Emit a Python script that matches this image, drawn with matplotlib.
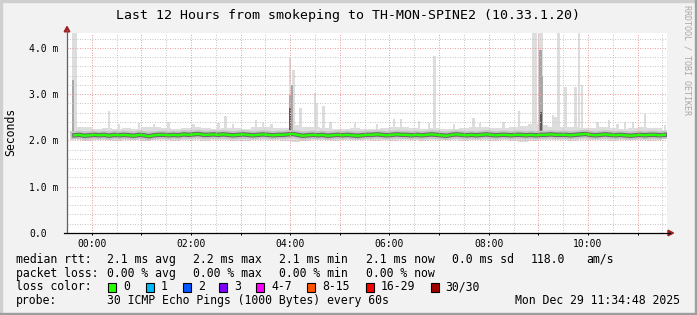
import numpy as np
import matplotlib.pyplot as plt
from matplotlib.patches import Rectangle, Polygon

plt.rcParams['font.family'] = ['DejaVu Sans Mono']

# ---- data (hours relative to 00:00, values in ms) ----
median_start = -0.35
median_step = 0.1
median_ms = [
    2.11, 2.12, 2.10, 2.11, 2.12, 2.11, 2.12, 2.10, 2.12, 2.11,
    2.12, 2.11, 2.10, 2.12, 2.11, 2.09, 2.11, 2.12, 2.12, 2.11,
    2.12, 2.11, 2.13, 2.12, 2.13, 2.14, 2.12, 2.12, 2.13, 2.12,
    2.13, 2.12, 2.11, 2.12, 2.13, 2.12, 2.11, 2.12, 2.13, 2.12,
    2.11, 2.12, 2.12, 2.13, 2.14, 2.12, 2.10, 2.11, 2.12, 2.11,
    2.12, 2.10, 2.11, 2.12, 2.11, 2.12, 2.11, 2.10, 2.11, 2.12,
    2.12, 2.13, 2.12, 2.11, 2.12, 2.13, 2.12, 2.12, 2.11, 2.12,
    2.11, 2.12, 2.13, 2.12, 2.11, 2.10, 2.12, 2.13, 2.12, 2.11,
    2.12, 2.11, 2.12, 2.13, 2.12, 2.11, 2.12, 2.12, 2.11, 2.12,
    2.12, 2.11, 2.12, 2.11, 2.12, 2.12, 2.13, 2.12, 2.12, 2.12,
    2.11, 2.12, 2.13, 2.14, 2.12, 2.11, 2.12, 2.13, 2.12, 2.11,
    2.12, 2.11, 2.10, 2.11, 2.12, 2.11, 2.12, 2.12, 2.11, 2.12,
]

smoke_start = -0.3
smoke_step = 0.2
smoke_hi = [
    2.30, 2.28, 2.25, 2.27, 2.24, 2.26, 2.25, 2.28, 2.30, 2.26,
    2.25, 2.27, 2.29, 2.26, 2.24, 2.27, 2.26, 2.25, 2.28, 2.30,
    2.27, 2.26, 2.33, 2.30, 2.28, 2.27, 2.25, 2.24, 2.26, 2.25,
    2.24, 2.27, 2.30, 2.28, 2.26, 2.25, 2.27, 2.25, 2.24, 2.26,
    2.28, 2.30, 2.27, 2.26, 2.29, 2.31, 2.35, 2.33, 2.30, 2.28,
    2.30, 2.27, 2.26, 2.28, 2.27, 2.25, 2.26, 2.28, 2.27, 2.26,
]
smoke_lo = [
    2.00, 1.99, 2.01, 2.00, 1.98, 2.01, 2.00, 1.99, 2.01, 2.00,
    1.98, 2.00, 2.01, 1.99, 2.00, 2.01, 1.99, 1.98, 2.00, 2.01,
    2.00, 1.99, 1.97, 1.98, 2.00, 2.01, 1.99, 2.00, 2.01, 2.00,
    1.99, 2.00, 1.98, 2.00, 2.01, 1.99, 2.00, 2.01, 2.00, 1.99,
    2.00, 2.01, 1.99, 2.00, 1.98, 1.96, 1.99, 2.00, 2.01, 2.00,
    1.99, 2.00, 2.01, 2.00, 1.99, 2.00, 2.01, 2.00, 1.99, 2.00,
]

# single pings far above the bulk (max of the smoke)
spike_t = [-0.38, -0.33, 0.35, 0.55, 0.95, 1.25, 1.55, 2.05, 2.55, 2.69,
           2.85, 3.31, 3.45, 3.62, 4.00, 4.07, 4.21, 4.50, 4.54, 4.67,
           4.81, 5.30, 5.75, 6.09, 6.23, 6.59, 6.80, 6.91, 7.30, 7.69,
           7.82, 8.30, 8.61, 8.90, 8.95, 9.02, 9.07, 9.30, 9.35, 9.41,
           9.55, 9.75, 9.82, 9.88, 10.19, 10.43, 10.60, 10.75, 10.91, 11.15,
           11.55]
spike_max = [4.40, 4.40, 2.63, 2.35, 2.38, 2.36, 2.40, 2.36, 2.38, 2.53,
             2.36, 2.44, 2.40, 2.36, 3.81, 3.52, 2.70, 3.02, 2.80, 2.74,
             2.40, 2.38, 2.36, 2.46, 2.46, 2.42, 2.38, 3.82, 2.36, 2.49,
             2.38, 2.40, 2.63, 4.40, 4.40, 4.40, 4.40, 2.55, 2.50, 4.40,
             3.16, 3.16, 4.40, 3.20, 2.40, 2.44, 2.36, 2.40, 2.40, 2.57,
             2.33]

# denser parts of the smoke
core_t = [-0.38, 4.00, 4.04, 9.04, 9.07]
core_top = [3.30, 2.98, 3.20, 3.95, 3.40]
dark_t = [4.00, 9.05]
dark_top = [2.70, 2.62]

hour_ticks = [0, 1, 2, 3, 4, 5, 6, 7, 8, 9, 10, 11]
hour_labels = ['00:00', '', '02:00', '', '04:00', '', '06:00', '', '08:00', '', '10:00', '']
ms_ticks = [0, 1, 2, 3, 4]
ms_labels = ['0.0', '1.0 m', '2.0 m', '3.0 m', '4.0 m']

rtt_items = ['median rtt:', '2.1 ms avg', '2.2 ms max', '2.1 ms min',
             '2.1 ms now', '0.0 ms sd', '118.0', 'am/s']
loss_items = ['packet loss:', '0.00 % avg', '0.00 % max', '0.00 % min', '0.00 % now']
loss_labels = ['0', '1', '2', '3', '4-7', '8-15', '16-29', '30/30']
loss_colors = ['#26ff00', '#00b8ff', '#0059ff', '#7e00ff', '#ff00ff',
               '#ff5500', '#ff0000', '#a10000']
probe_text = '30 ICMP Echo Pings (1000 Bytes) every 60s'
stamp = 'Mon Dec 29 11:34:48 2025'
title = 'Last 12 Hours from smokeping to TH-MON-SPINE2 (10.33.1.20)'

# ---- figure ----
W, H = 697, 315
fig = plt.figure(figsize=(W / 100, H / 100), dpi=100, facecolor='#f2f2f2')
ax = fig.add_axes([67 / W, (H - 233) / H, 600 / W, 200.3 / H])
ax.set_facecolor('white')

med_t = median_start + median_step * np.arange(len(median_ms))
smk_t = smoke_start + smoke_step * np.arange(len(smoke_hi))

ax.fill_between(smk_t, smoke_lo, smoke_hi, step='mid', color='#dddddd', lw=0, zorder=1)
ax.bar(spike_t, np.array(spike_max) - 2.05, bottom=2.05, width=0.05,
       color='#dddddd', lw=0, zorder=1)
ax.bar(core_t, np.array(core_top) - 2.05, bottom=2.05, width=0.05,
       color='#a8a8a8', lw=0, zorder=1.1)
ax.bar(dark_t, np.array(dark_top) - 2.05, bottom=2.05, width=0.05,
       color='#5a5a5a', lw=0, zorder=1.2)
ax.plot(med_t, median_ms, color='#c4c4c4', lw=6.0, zorder=1.3)
ax.plot(med_t, median_ms, color='#6a6a6a', lw=3.2, zorder=1.4)
ax.plot(med_t, median_ms, color='#26ff00', lw=1.7, zorder=3)

ax.set_xlim(-0.406, 11.594)
ax.set_ylim(0, 200.3 / 46.3)

ax.set_xticks(hour_ticks)
ax.set_xticklabels(hour_labels)
ax.set_xticks(np.arange(-0.5, 11.6, 0.5), minor=True)
ax.set_yticks(ms_ticks)
ax.set_yticklabels(ms_labels)
ax.set_yticks(np.arange(0.2, 4.4, 0.2), minor=True)

ax.set_axisbelow(False)
ax.grid(which='major', color='#e8a0a0', ls=(0, (1, 1.5)), lw=0.72)
ax.grid(which='minor', color='#c8c8c8', ls=(0, (1, 1.5)), lw=0.72)

ax.tick_params(axis='x', which='major', length=1.5, width=0.72, pad=2.6,
               labelsize=7, color='black')
ax.tick_params(axis='both', which='minor', length=0)
ax.tick_params(axis='y', which='major', length=0, pad=27.1, labelsize=7)
for lbl in ax.get_yticklabels():
    lbl.set_ha('left')
for s in ax.spines.values():
    s.set_visible(False)

# ---- overlay in pixel coordinates ----
ov = fig.add_axes([0, 0, 1, 1])
ov.set_xlim(0, W)
ov.set_ylim(H, 0)
ov.axis('off')

ov.add_patch(Rectangle((0, 0), W, 2, color='#cfcfcf'))
ov.add_patch(Rectangle((0, 0), 2, H, color='#cfcfcf'))
ov.add_patch(Rectangle((W - 2, 0), 2, H, color='#9e9e9e'))
ov.add_patch(Rectangle((0, H - 2), W, 2, color='#9e9e9e'))

ov.plot([67, 67], [233, 30], color='#606060', lw=0.9)
ov.plot([64, 670], [233, 233], color='black', lw=0.9)
ov.add_patch(Polygon([(64.2, 31.8), (69.8, 31.8), (67, 26.5)], color='#a02020'))
ov.add_patch(Polygon([(668, 230.2), (668, 235.8), (673.5, 233)], color='#a02020'))

ov.text(W / 2, 18.5, title, ha='center', va='baseline', fontsize=9.5)
ov.text(11, 132.3, 'Seconds', rotation=90, ha='center', va='center', fontsize=8.3)
ov.text(687.5, 60, 'RRDTOOL / TOBI OETIKER', rotation=270, ha='center', va='center',
        fontsize=6, color='#a8a8a8')

rtt_x = [16, 107.3, 193.3, 279.3, 365.7, 451.7, 531, 586.7]
for s, x in zip(rtt_items, rtt_x):
    ov.text(x, 262.7, s, va='baseline', fontsize=8.3)
for s, x in zip(loss_items, rtt_x):
    ov.text(x, 276.7, s, va='baseline', fontsize=8.3)

ov.text(16, 290.5, 'loss color:', va='baseline', fontsize=8.3)
box_x = [108.3, 145.7, 183.3, 219, 256, 307.3, 365.7, 430.7]
for lab, col, x in zip(loss_labels, loss_colors, box_x):
    ov.add_patch(Rectangle((x, 283.3), 8, 8.3, facecolor=col, edgecolor='black', lw=0.8))
    ov.text(x + 15, 290.5, lab, va='baseline', fontsize=8.3)

ov.text(16, 304.4, 'probe:', va='baseline', fontsize=8.3)
ov.text(107.3, 304.4, probe_text, va='baseline', fontsize=8.3)
ov.text(680, 304.4, stamp, ha='right', va='baseline', fontsize=8.3)

fig.savefig('out.png', dpi=100, facecolor=fig.get_facecolor())
